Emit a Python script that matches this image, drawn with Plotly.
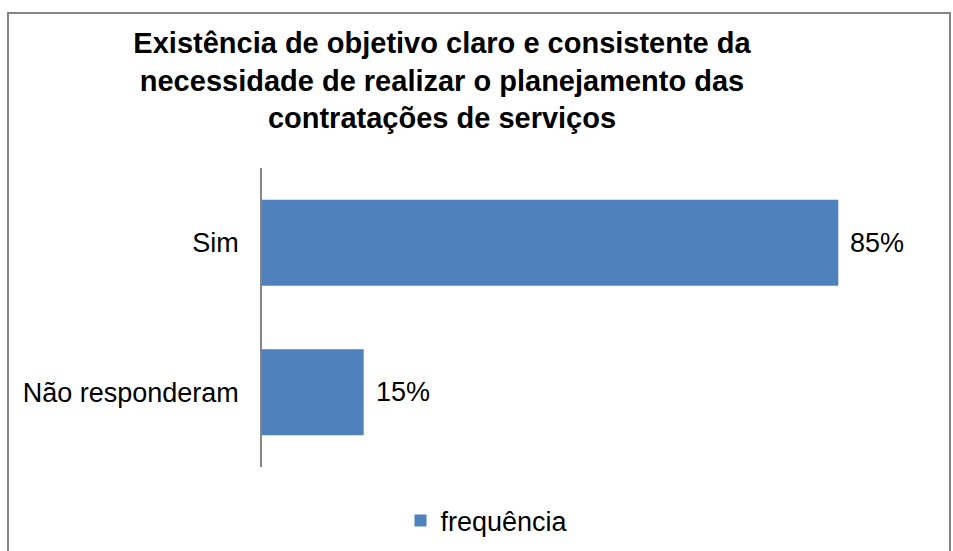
import plotly.graph_objects as go

categories = ["Sim", "Não responderam"]
values = [0.85, 0.15]
series_name = "frequência"
title_lines = [
    "Existência de objetivo claro e consistente da",
    "necessidade de realizar o planejamento das",
    "contratações de serviços",
]

W, H = 953, 551
L, R, T, B = 262, 13, 168, 84
pw, ph = W - L - R, H - T - B

FONT = "Liberation Sans, Arial, sans-serif"
BAR = "#4F81BD"
FS = 27

fig = go.Figure()
fig.add_trace(go.Bar(
    x=values, y=categories, orientation="h", name=series_name,
    marker=dict(color=BAR, line=dict(width=0)),
    showlegend=True,
))

for v, c in zip(values, categories):
    fig.add_annotation(x=v, y=c, xref="x", yref="y", text=f"{round(v*100)}%",
                       showarrow=False, xanchor="left", yanchor="middle", xshift=10,
                       font=dict(family=FONT, size=FS, color="#000000"))

def px(xp):
    return (xp - L) / pw

def py(yp):
    return (H - B - yp) / ph

# chart border
fig.add_shape(type="rect", xref="paper", yref="paper",
              x0=px(8), x1=px(950), y0=py(570), y1=py(13),
              line=dict(color="#868686", width=2), fillcolor="rgba(0,0,0,0)", layer="below")

fig.update_layout(
    width=W, height=H,
    margin=dict(l=L, r=R, t=T, b=B, autoexpand=False),
    paper_bgcolor="white", plot_bgcolor="white",
    font=dict(family=FONT, size=FS, color="#000000"),
    title=dict(text="<br>".join(title_lines), x=442 / W, xanchor="center",
               y=1 - 53 / H, yanchor="top", yref="container",
               font=dict(family=FONT, size=29, color="#000000", weight="bold")),
    bargap=0.425,
    xaxis=dict(range=[0, 1], visible=False, showgrid=False, zeroline=False),
    yaxis=dict(autorange="reversed", showline=True, linecolor="#868686", linewidth=1.5,
               showgrid=False, ticks="", ticklabelstandoff=16,
               tickfont=dict(family=FONT, size=FS, color="#000000")),
    legend=dict(orientation="h", x=487 / W, xref="container", xanchor="center",
                y=(H - 521) / H, yref="container", yanchor="middle",
                font=dict(family=FONT, size=FS, color="#000000"), itemwidth=30,
                bgcolor="rgba(0,0,0,0)"),
)

fig.write_html("out.html", config={"displayModeBar": False},
               post_script="document.body.style.margin='0';")
